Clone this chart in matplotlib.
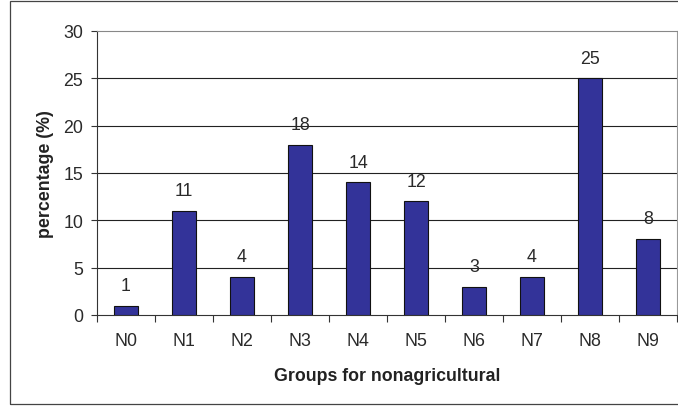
import matplotlib
matplotlib.use("Agg")
import matplotlib.pyplot as plt
from matplotlib.patches import Rectangle
import numpy as np

plt.rcParams['font.family'] = ['Liberation Sans', 'DejaVu Sans']

categories = ["N0", "N1", "N2", "N3", "N4", "N5", "N6", "N7", "N8", "N9"]
values = [1, 11, 4, 18, 14, 12, 3, 4, 25, 8]
yticks = [0, 5, 10, 15, 20, 25, 30]

W, H = 678, 410
fig = plt.figure(figsize=(W/100, H/100), dpi=100)
ax = fig.add_axes([97/W, 1-316/H, (677-97)/W, (316-32)/H])

FS = 12.8
x = np.arange(len(categories))
ax.bar(x, values, width=0.4, color="#333399", edgecolor="#111111", linewidth=0.8, zorder=3)
for xi, v in zip(x, values):
    ax.annotate(str(v), (xi, v), xytext=(0, 8.5), textcoords="offset points",
                ha="center", va="bottom", fontsize=FS, color="#2a2a2a")

ax.set_xlim(-0.5, len(categories) - 0.5)
ax.set_ylim(0, 30)
ax.set_yticks(yticks)
ax.set_yticklabels([str(t) for t in yticks], fontsize=FS, color="#2a2a2a")
ax.set_xticks(x)
ax.set_xticklabels(categories, fontsize=FS, color="#2a2a2a")
ax.set_xticks(np.arange(-0.5, len(categories), 1), minor=True)
ax.tick_params(axis="x", which="major", length=0, pad=12)
ax.tick_params(axis="x", which="minor", length=5, direction="out", color="#333333", width=0.8)
ax.tick_params(axis="y", length=4, direction="out", color="#333333", width=0.8, pad=6)

for t in [5, 10, 15, 20, 25]:
    ax.axhline(t, color="#222222", linewidth=0.8, zorder=1)

ax.spines["left"].set_color("#333333")
ax.spines["bottom"].set_color("#333333")
ax.spines["top"].set_color("#888888")
ax.spines["right"].set_color("#999999")
for s in ax.spines.values():
    s.set_linewidth(0.8)

ax.set_xlabel("Groups for nonagricultural", fontsize=FS, fontweight="bold", color="#222222", labelpad=13)
ax.set_ylabel("percentage (%)", fontsize=FS, fontweight="bold", color="#222222", labelpad=7)

fig.patches.append(Rectangle((10/W, 1-405/H), 700/W, 403/H, transform=fig.transFigure,
                             fill=False, edgecolor="#444444", linewidth=0.9))

fig.savefig("out.png", dpi=100)
